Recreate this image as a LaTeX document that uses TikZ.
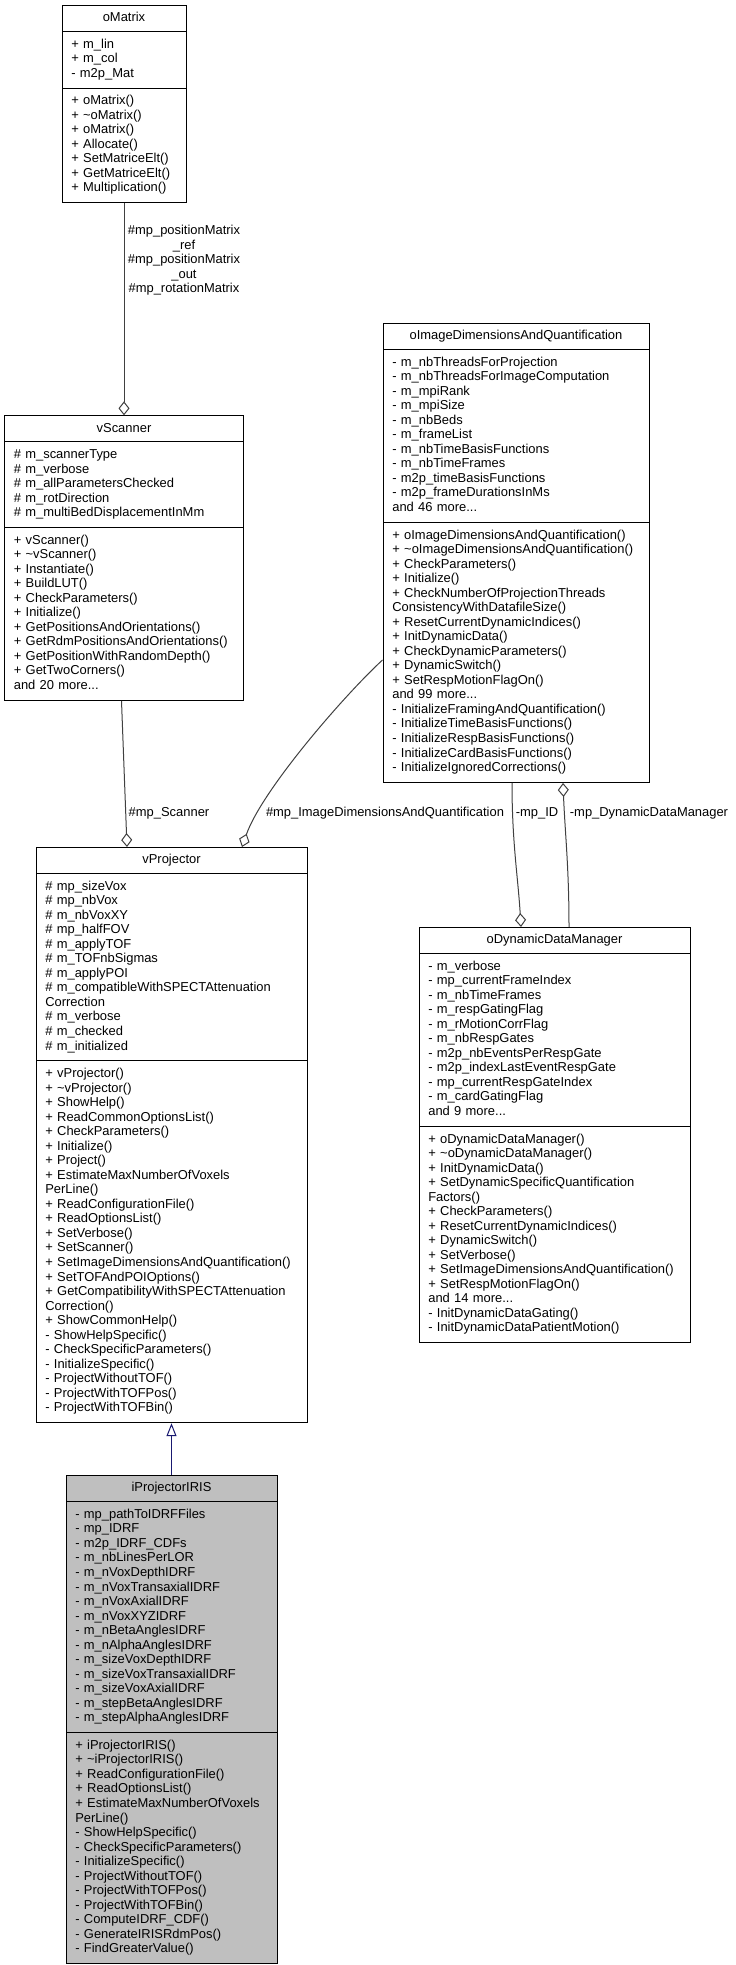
\documentclass[tikz,border=0pt]{standalone}
\usepackage{fontspec}
\setmainfont{Liberation Sans}
\usepackage{tikz}
\usetikzlibrary{calc,positioning,arrows.meta,shapes.multipart}

\definecolor{aggline}{RGB}{64,64,64}
\definecolor{inhline}{RGB}{25,25,112}
\definecolor{leafgray}{RGB}{191,191,191}
\hyphenpenalty=10000
\exhyphenpenalty=10000
\newcommand{\titlestrut}{\rule[-2.5pt]{0pt}{9.75pt}}

\begin{document}
\begin{tikzpicture}[
    x=0.75pt, y=-0.75pt,
    every node/.style={font=\fontsize{9.7pt}{10.9pt}\selectfont},
    cls/.style={rectangle split, rectangle split parts=3, draw=black,
                line width=0.75pt, inner xsep=7pt, inner ysep=4.5pt,
                text width=#1, align=left, fill=white},
    lbl/.style={inner sep=0pt, align=center},
    agg/.style={-{Diamond[open, length=10.5pt, width=8.25pt]},
                draw=aggline, line width=0.75pt},
    inh/.style={-{Triangle[open, length=9.75pt, width=7.5pt]},
                draw=inhline, line width=0.75pt}
]
\useasboundingbox (0,0) rectangle (735,1965);

\node[cls=79pt, anchor=north] (oMatrix) at (124,5)
  {\hfill oMatrix\hfill\titlestrut
   \nodepart{two}\strut + m\_lin\\+ m\_col\\- m2p\_Mat\strut
   \nodepart{three}\strut + oMatrix()\\+ \textasciitilde oMatrix()\\+ oMatrix()\\
   + Allocate()\\+ SetMatriceElt()\\+ GetMatriceElt()\\+ Multiplication()\strut};

\node[cls=165.25pt, below=159pt of oMatrix] (vScanner)
  {\hfill vScanner\hfill\titlestrut
   \nodepart{two}\strut \# m\_scannerType\\\# m\_verbose\\\# m\_allParametersChecked\\
   \# m\_rotDirection\\\# m\_multiBedDisplacementInMm\strut
   \nodepart{three}\strut + vScanner()\\+ \textasciitilde vScanner()\\+ Instantiate()\\
   + BuildLUT()\\+ CheckParameters()\\+ Initialize()\\+ GetPositionsAndOrientations()\\
   + GetRdmPositionsAndOrientations()\\+ GetPositionWithRandomDepth()\\
   + GetTwoCorners()\\and 20 more...\strut};

\node[cls=185.5pt, anchor=north] (oImage) at (516,323)
  {\hfill oImageDimensionsAndQuantification\hfill\titlestrut
   \nodepart{two}\strut - m\_nbThreadsForProjection\\- m\_nbThreadsForImageComputation\\
   - m\_mpiRank\\- m\_mpiSize\\- m\_nbBeds\\- m\_frameList\\- m\_nbTimeBasisFunctions\\
   - m\_nbTimeFrames\\- m2p\_timeBasisFunctions\\- m2p\_frameDurationsInMs\\
   and 46 more...\strut
   \nodepart{three}\strut + oImageDimensionsAndQuantification()\\
   + \textasciitilde oImageDimensionsAndQuantification()\\+ CheckParameters()\\
   + Initialize()\\+ CheckNumberOfProjectionThreads\\ConsistencyWithDatafileSize()\\
   + ResetCurrentDynamicIndices()\\+ InitDynamicData()\\+ CheckDynamicParameters()\\
   + DynamicSwitch()\\+ SetRespMotionFlagOn()\\and 99 more...\\
   - InitializeFramingAndQuantification()\\- InitializeTimeBasisFunctions()\\
   - InitializeRespBasisFunctions()\\- InitializeCardBasisFunctions()\\
   - InitializeIgnoredCorrections()\strut};

\node[cls=189.25pt, anchor=north] (vProjector) at (171.5,847)
  {\hfill vProjector\hfill\titlestrut
   \nodepart{two}\strut \# mp\_sizeVox\\\# mp\_nbVox\\\# m\_nbVoxXY\\\# mp\_halfFOV\\
   \# m\_applyTOF\\\# m\_TOFnbSigmas\\\# m\_applyPOI\\
   \# m\_compatibleWithSPECTAttenuation\\Correction\\\# m\_verbose\\\# m\_checked\\
   \# m\_initialized\strut
   \nodepart{three}\strut + vProjector()\\+ \textasciitilde vProjector()\\+ ShowHelp()\\
   + ReadCommonOptionsList()\\+ CheckParameters()\\+ Initialize()\\+ Project()\\
   + EstimateMaxNumberOfVoxels\\PerLine()\\+ ReadConfigurationFile()\\
   + ReadOptionsList()\\+ SetVerbose()\\+ SetScanner()\\
   + SetImageDimensionsAndQuantification()\\+ SetTOFAndPOIOptions()\\
   + GetCompatibilityWithSPECTAttenuation\\Correction()\\+ ShowCommonHelp()\\
   - ShowHelpSpecific()\\- CheckSpecificParameters()\\- InitializeSpecific()\\
   - ProjectWithoutTOF()\\- ProjectWithTOFPos()\\- ProjectWithTOFBin()\strut};

\node[cls=189.25pt, anchor=north] (oDDM) at (554.5,927)
  {\hfill oDynamicDataManager\hfill\titlestrut
   \nodepart{two}\strut - m\_verbose\\- mp\_currentFrameIndex\\- m\_nbTimeFrames\\
   - m\_respGatingFlag\\- m\_rMotionCorrFlag\\- m\_nbRespGates\\
   - m2p\_nbEventsPerRespGate\\- m2p\_indexLastEventRespGate\\
   - mp\_currentRespGateIndex\\- m\_cardGatingFlag\\and 9 more...\strut
   \nodepart{three}\strut + oDynamicDataManager()\\+ \textasciitilde oDynamicDataManager()\\
   + InitDynamicData()\\+ SetDynamicSpecificQuantification\\Factors()\\
   + CheckParameters()\\+ ResetCurrentDynamicIndices()\\+ DynamicSwitch()\\
   + SetVerbose()\\+ SetImageDimensionsAndQuantification()\\+ SetRespMotionFlagOn()\\
   and 14 more...\\- InitDynamicDataGating()\\- InitDynamicDataPatientMotion()\strut};

\node[cls=144.25pt, fill=leafgray, below=39pt of vProjector] (iProj)
  {\hfill iProjectorIRIS\hfill\titlestrut
   \nodepart{two}\strut - mp\_pathToIDRFFiles\\- mp\_IDRF\\- m2p\_IDRF\_CDFs\\
   - m\_nbLinesPerLOR\\- m\_nVoxDepthIDRF\\- m\_nVoxTransaxialIDRF\\
   - m\_nVoxAxialIDRF\\- m\_nVoxXYZIDRF\\- m\_nBetaAnglesIDRF\\
   - m\_nAlphaAnglesIDRF\\- m\_sizeVoxDepthIDRF\\- m\_sizeVoxTransaxialIDRF\\
   - m\_sizeVoxAxialIDRF\\- m\_stepBetaAnglesIDRF\\- m\_stepAlphaAnglesIDRF\strut
   \nodepart{three}\strut + iProjectorIRIS()\\+ \textasciitilde iProjectorIRIS()\\
   + ReadConfigurationFile()\\+ ReadOptionsList()\\+ EstimateMaxNumberOfVoxels\\
   PerLine()\\- ShowHelpSpecific()\\- CheckSpecificParameters()\\
   - InitializeSpecific()\\- ProjectWithoutTOF()\\- ProjectWithTOFPos()\\
   - ProjectWithTOFBin()\\- ComputeIDRF\_CDF()\\- GenerateIRISRdmPos()\\
   - FindGreaterValue()\strut};

% connector labels
\node[lbl] (lMatrix) at (184,260.5)
  {\#mp\_positionMatrix\\\_ref\\\#mp\_positionMatrix\\\_out\\\#mp\_rotationMatrix};
\node[lbl] (lScanner) at (169,813) {\#mp\_Scanner};
\node[lbl] (lImgDim) at (385,813) {\#mp\_ImageDimensionsAndQuantification};
\node[lbl] (lID) at (537,813) {-mp\_ID};
\node[lbl] (lDDM) at (649,813) {-mp\_DynamicDataManager};

\draw[agg] (oMatrix) -- (vScanner);
\draw[agg] ($(vScanner.south)+(-2.5,0)$) -- ($(vProjector.north)+(-44.5,0)$);
\draw[agg] ($(oImage.north west)+(0,337)$) .. controls +(-38,35) and +(20,-57)
  .. ($(vProjector.north)+(70.5,0)$);
\draw[agg] ($(oImage.south)+(-4,0)$) .. controls +(0,60) and +(-3,-50)
  .. ($(oDDM.north)+(-33.5,0)$);
\draw[agg] ($(oDDM.north)+(14.5,0)$) .. controls +(0,-60) and +(2,50)
  .. ($(oImage.south)+(47,0)$);
\draw[inh] (iProj) -- (vProjector);
\end{tikzpicture}
\end{document}
